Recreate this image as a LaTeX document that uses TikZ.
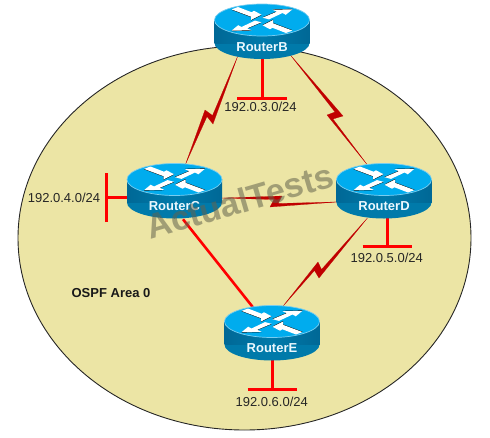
\documentclass[tikz,border=0pt]{standalone}
\usepackage{fontspec}
\setmainfont{Liberation Sans}
\usetikzlibrary{shapes.geometric}
\definecolor{area}{RGB}{236,229,165}
\definecolor{rtop}{RGB}{0,172,238}
\definecolor{rbody}{RGB}{0,122,170}
\definecolor{rbodyd}{RGB}{0,104,150}
\definecolor{rrim}{RGB}{120,205,240}
\definecolor{boltred}{RGB}{192,0,0}
\definecolor{wmark}{RGB}{100,100,78}
\tikzset{
  x=1pt,y=-1pt,
  routerbox/.style={shape=ellipse,minimum width=96pt,minimum height=56pt,inner sep=0pt,draw=none},
  stub/.style={draw=red,line width=3pt},
  bolt/.style={fill=boltred,draw=boltred,line width=.2pt,line join=miter},
  netlabel/.style={font=\fontsize{13}{13}\selectfont,text=black!85,inner sep=0pt},
  arrowa/.pic={
    \fill[black] (-30.5,-10.2) -- (-24,-12.2) -- (-10.5,-6.9) -- (-8,-8.2) -- (-.5,-4.9) -- (-11,.5) -- (-11,-2.9) -- cycle;
    \fill[white] (-30.5,-10.6) -- (-24,-13) -- (-10.5,-7.8) -- (-8,-9.2) -- (-.5,-5.3) -- (-11,0) -- (-11,-3.3) -- cycle;
  },
  arrowb/.pic={
    \fill[black] (.5,-2.7) -- (14.8,-8.7) -- (10.5,-10.7) -- (30.5,-11.1) -- (23.8,-6.1) -- (20.5,-8.1) -- (7,-1.4) -- cycle;
    \fill[white] (.5,-2.3) -- (14.8,-8.3) -- (10.5,-10.3) -- (30.5,-10.7) -- (23.8,-5.2) -- (20.5,-7) -- (7,-.6) -- cycle;
  },
  routerart/.pic={
    \fill[rbody] (0,11) circle[x radius=47.5pt,y radius=16pt];
    \fill[rbody] (-47.5,-12) rectangle (47.5,11);
    \shade[left color=rbodyd,right color=rbodyd,middle color=rbody,shading angle=90] (-47.5,-12) rectangle (47.5,11);
    \fill[rtop] (0,-12) circle[x radius=47.5pt,y radius=16pt];
    \draw[rrim,line width=.7pt] (0,-12) circle[x radius=47.5pt,y radius=16pt];
    \begin{scope}[shift={(0,-12)}]
      \pic {arrowa};
      \pic {arrowb};
      \pic[rotate=180] {arrowb};
      \pic[rotate=180] {arrowa};
    \end{scope}
    \node[font=\bfseries\fontsize{13}{13}\selectfont,text=white!92!rtop,inner sep=0pt] (label) at (0,15) {#1};
  }
}
\begin{document}
\begin{tikzpicture}
\useasboundingbox (0,0) rectangle (490,437);
\node[shape=ellipse,draw=black!85,line width=.9pt,fill=area,minimum width=453pt,minimum height=384pt,inner sep=0pt] (area) at (244.5,238) {};
\node[routerbox] (B) at (262,32) {};
\node[routerbox] (C) at (174.5,191.5) {};
\node[routerbox] (D) at (384,191.5) {};
\node[routerbox] (E) at (272,333.5) {};
% tapered serial links
\fill[bolt] (B.225) -- (213,124) -- (207,116.5) -- (C.68) -- (205,110) -- (212.5,115.5) -- cycle;
\fill[bolt] (B.-39) -- (343,116) -- (333,119) -- (D.122) -- (327,115) -- (335,112) -- cycle;
\fill[bolt] (C.-8) -- (282,196) -- (278,203.5) -- (D.193) -- (270,207) -- (274,199.5) -- cycle;
\fill[bolt] (D.238) -- (319,278) -- (314.5,270.5) -- (E.68) -- (318,262) -- (321.5,269.5) -- cycle;
\draw[red,line width=2.6pt] (C.-73) -- (E.126);
% LAN stubs
\coordinate (Bs) at (262,98);
\coordinate (Cs) at (106,197.5);
\coordinate (Ds) at (387,246);
\coordinate (Es) at (272,389);
\draw[stub] (B.center) -- (Bs);
\draw[stub] ([xshift=-25pt]Bs) -- ([xshift=25pt]Bs);
\draw[stub] (Cs -| C.center) -- (Cs);
\draw[stub] ([yshift=-24.5pt]Cs) -- ([yshift=24.5pt]Cs);
\draw[stub] (Ds |- D.center) -- (Ds);
\draw[stub] ([xshift=-24.5pt]Ds) -- ([xshift=24.5pt]Ds);
\draw[stub] (E.center) -- (Es);
\draw[stub] ([xshift=-24.5pt]Es) -- ([xshift=24.5pt]Es);
% routers
\pic (Bart) at (B) {routerart=RouterB};
\pic (Cart) at (C) {routerart=RouterC};
\pic (Dart) at (D) {routerart=RouterD};
\pic (Eart) at (E) {routerart=RouterE};
% labels
\node[netlabel] (n3) at (260.5,107) {192.0.3.0/24};
\node[netlabel] (n4) at (64,197.7) {192.0.4.0/24};
\node[netlabel] (n5) at (386.7,257.7) {192.0.5.0/24};
\node[netlabel] (n6) at (271.7,401.7) {192.0.6.0/24};
\node[font=\bfseries\fontsize{13}{13}\selectfont,text=black!90,inner sep=0pt] (ospf) at (111,293) {OSPF Area 0};
\node[font=\bfseries\fontsize{34.5}{34.5}\selectfont,text=wmark,opacity=.55,rotate=16.3,inner sep=0pt] (wm) at (239.5,201) {ActualTests};
\end{tikzpicture}
\end{document}
